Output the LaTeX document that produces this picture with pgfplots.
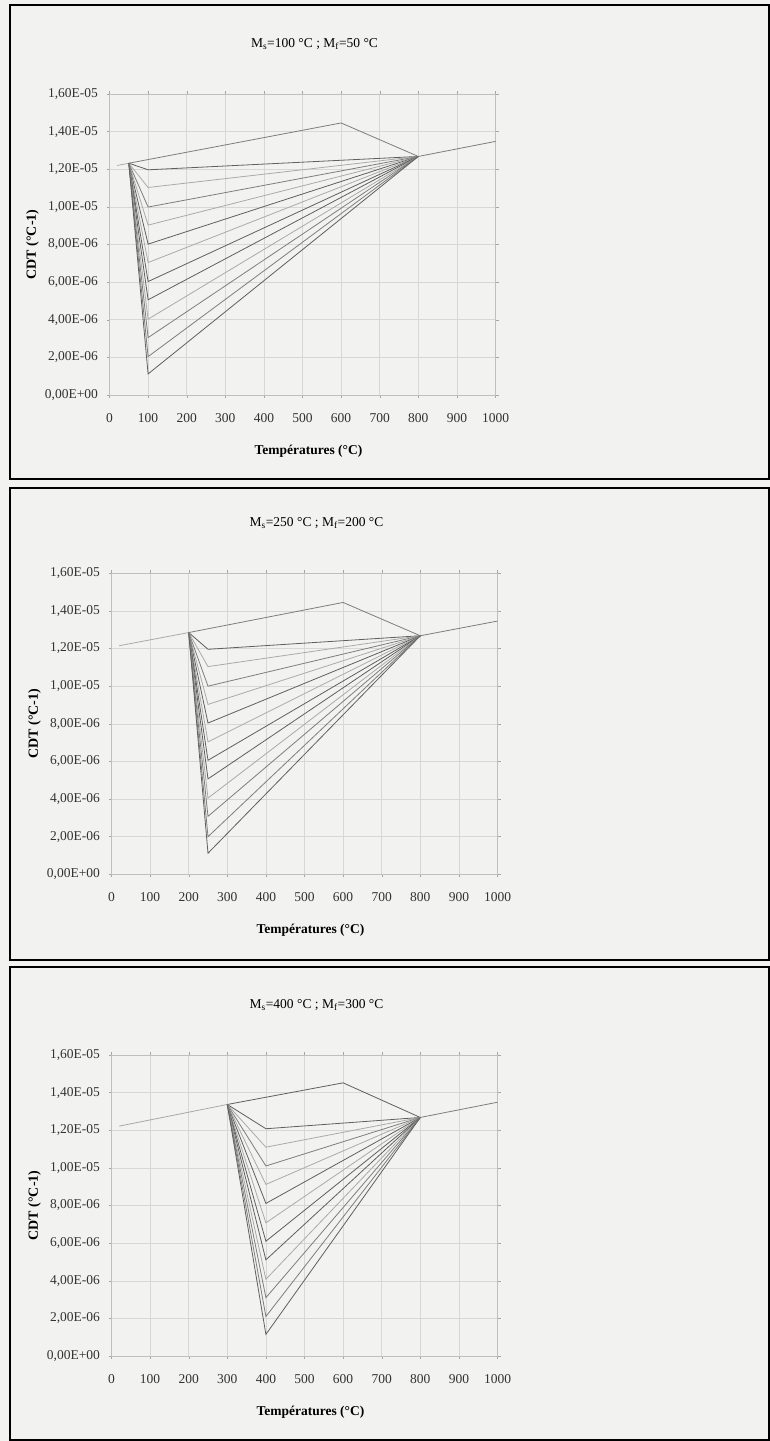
\documentclass[border=0pt]{standalone}
\usepackage{pgfplots}
\pgfplotsset{compat=1.18}
\usepackage{fontspec}
\setmainfont{Liberation Serif}
\definecolor{bg}{RGB}{242,242,240}
\definecolor{dk}{RGB}{95,95,95}
\definecolor{md}{RGB}{125,125,125}
\definecolor{lt}{RGB}{170,170,170}
\definecolor{gridc}{RGB}{215,215,215}
\newcommand\fanline[5]{\addplot[#1] coordinates {(#2,#3) (#4,#5) (800,1.268e-5)};}
\pgfplotsset{
  panel/.style={
    scale only axis, width=386pt, height=301pt,
    xmin=0, xmax=1000, ymin=0, ymax=1.6e-5,
    xtick={0,100,200,300,400,500,600,700,800,900,1000},
    xticklabels={0,100,200,300,400,500,600,700,800,900,1000},
    ytick={0,2e-6,4e-6,6e-6,8e-6,1e-5,1.2e-5,1.4e-5,1.6e-5},
    yticklabels={{0,00E+00},{2,00E-06},{4,00E-06},{6,00E-06},{8,00E-06},{1,00E-05},{1,20E-05},{1,40E-05},{1,60E-05}},
    scaled y ticks=false,
    ticklabel style={font=\fontsize{13.5}{15}\selectfont, text=black!80},
    xticklabel style={yshift=-12pt},
    yticklabel style={xshift=-5pt},
    tick align=outside, major tick length=3pt,
    tick style={gray!70, thin},
    grid=major, major grid style={gridc, line width=0.5pt},
    axis line style={gray!50, line width=0.6pt},
    xlabel={\textbf{Températures (°C)}},
    ylabel={\textbf{CDT (°C-1)}},
    xlabel style={at={(axis description cs:0.5,0)}, anchor=center, yshift=-56pt, xshift=6pt, font=\fontsize{13.5}{15}\selectfont},
    ylabel style={at={(axis description cs:-0.1995,0.5)}, anchor=center, font=\fontsize{14}{15}\selectfont},
    title style={at={(axis description cs:0.5,1)}, anchor=center, yshift=44pt, xshift=12pt, font=\fontsize{13.5}{15}\selectfont},
    every axis plot/.append style={line width=0.8pt, no markers},
    clip=false,
  }
}
\begin{document}
\begin{tikzpicture}[x=1pt,y=1pt]
\useasboundingbox (0,0) rectangle (770,1441);
\fill[bg] (0,0) rectangle (770,1441);
% frames
\draw[line width=2.2pt] (10,962) rectangle (769,1436);
\draw[line width=2.2pt] (10,481) rectangle (769,953);
\draw[line width=2.2pt] (10,1) rectangle (769,474);

% Panel 1
\begin{axis}[panel, at={(109.5pt,1046pt)}, title={M\textsubscript{s}=100 °C ; M\textsubscript{f}=50 °C}]
\addplot[lt] coordinates {(20,1.22e-5) (50,1.232e-5)};
\addplot[md] coordinates {(800,1.268e-5) (1000,1.348e-5)};
\addplot[md] coordinates {(50,1.232e-5) (600,1.446e-5) (800,1.268e-5)};
\fanline{dk}{50}{1.232e-5}{100}{1.197e-5}
\fanline{lt}{50}{1.232e-5}{100}{1.103e-5}
\fanline{md}{50}{1.232e-5}{100}{0.999e-5}
\fanline{lt}{50}{1.232e-5}{100}{0.903e-5}
\fanline{dk}{50}{1.232e-5}{100}{0.802e-5}
\fanline{lt}{50}{1.232e-5}{100}{0.704e-5}
\fanline{dk}{50}{1.232e-5}{100}{0.603e-5}
\fanline{dk}{50}{1.232e-5}{100}{0.506e-5}
\fanline{lt}{50}{1.232e-5}{100}{0.403e-5}
\fanline{md}{50}{1.232e-5}{100}{0.305e-5}
\fanline{md}{50}{1.232e-5}{100}{0.204e-5}
\fanline{dk}{50}{1.232e-5}{100}{0.112e-5}
\end{axis}

% Panel 2
\begin{axis}[panel, at={(111.5pt,566.7pt)}, title={M\textsubscript{s}=250 °C ; M\textsubscript{f}=200 °C}]
\addplot[lt] coordinates {(20,1.215e-5) (200,1.285e-5)};
\addplot[md] coordinates {(800,1.268e-5) (1000,1.346e-5)};
\addplot[md] coordinates {(200,1.285e-5) (600,1.445e-5) (800,1.268e-5)};
\fanline{dk}{200}{1.285e-5}{250}{1.196e-5}
\fanline{lt}{200}{1.285e-5}{250}{1.104e-5}
\fanline{md}{200}{1.285e-5}{250}{1.000e-5}
\fanline{lt}{200}{1.285e-5}{250}{0.903e-5}
\fanline{dk}{200}{1.285e-5}{250}{0.804e-5}
\fanline{lt}{200}{1.285e-5}{250}{0.704e-5}
\fanline{dk}{200}{1.285e-5}{250}{0.606e-5}
\fanline{dk}{200}{1.285e-5}{250}{0.507e-5}
\fanline{lt}{200}{1.285e-5}{250}{0.405e-5}
\fanline{md}{200}{1.285e-5}{250}{0.308e-5}
\fanline{md}{200}{1.285e-5}{250}{0.200e-5}
\fanline{dk}{200}{1.285e-5}{250}{0.112e-5}
\end{axis}

% Panel 3
\begin{axis}[panel, at={(111.5pt,85pt)}, title={M\textsubscript{s}=400 °C ; M\textsubscript{f}=300 °C}]
\addplot[lt] coordinates {(20,1.222e-5) (300,1.337e-5)};
\addplot[md] coordinates {(800,1.268e-5) (1000,1.349e-5)};
\addplot[dk] coordinates {(300,1.337e-5) (600,1.452e-5) (800,1.268e-5)};
\fanline{dk}{300}{1.337e-5}{400}{1.208e-5}
\fanline{lt}{300}{1.337e-5}{400}{1.110e-5}
\fanline{md}{300}{1.337e-5}{400}{1.010e-5}
\fanline{lt}{300}{1.337e-5}{400}{0.912e-5}
\fanline{dk}{300}{1.337e-5}{400}{0.811e-5}
\fanline{lt}{300}{1.337e-5}{400}{0.708e-5}
\fanline{dk}{300}{1.337e-5}{400}{0.610e-5}
\fanline{dk}{300}{1.337e-5}{400}{0.511e-5}
\fanline{lt}{300}{1.337e-5}{400}{0.408e-5}
\fanline{md}{300}{1.337e-5}{400}{0.310e-5}
\fanline{md}{300}{1.337e-5}{400}{0.210e-5}
\fanline{dk}{300}{1.337e-5}{400}{0.115e-5}
\end{axis}
\end{tikzpicture}
\end{document}
